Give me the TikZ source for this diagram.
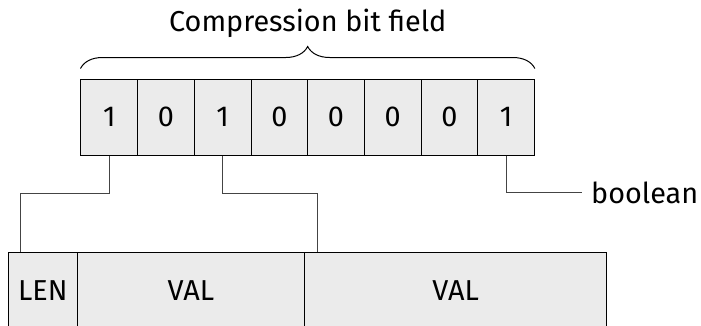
\documentclass[tikz,border=0pt]{standalone}
\usepackage{fontspec}
\setmainfont{Fira Sans}
\usetikzlibrary{calc,decorations.pathreplacing}
\definecolor{cellfill}{HTML}{EBEBEB}
\definecolor{wire}{HTML}{444444}
\tikzset{
  labelfont/.style={font=\fontsize{28.8}{34}\selectfont},
  cell/.style={draw=black, fill=cellfill, line width=1pt, inner sep=0pt,
    minimum height=76pt, labelfont},
  bitcell/.style={cell, minimum width=56.67pt},
  wireline/.style={draw=wire, line width=1pt},
}
\begin{document}
\begin{tikzpicture}[x=1pt, y=-1pt]
\useasboundingbox (0,0) rectangle (701,325);
\begin{scope}
\clip (0,0) rectangle (701,325);
% field boxes below
\node[cell, minimum width=69pt]    (len)  at (42.8,290.5)  {LEN};
\node[cell, minimum width=227.2pt] (val1) at (190.9,290.5) {VAL};
\node[cell, minimum width=302.2pt] (val2) at (455.6,290.5) {VAL};
\end{scope}
% the eight flag bits
\foreach \v [count=\i] in {1,0,1,0,0,0,0,1}
  \node[bitcell] (b\i) at ({109.33+56.67*(\i-1)},117) {\v};
% brace and title
\draw[line width=1pt, decorate, decoration={brace, amplitude=22pt}]
  (b1.north west) ++(0,-10) coordinate (brl) (b8.north east) ++(0,-10) coordinate (brr)
  (brl) -- (brr);
\node[labelfont] (title) at (307.7,23) {Compression bit field};
% connectors
\draw[wireline] (b1.south) -- ++(0,37.7) -| ($(len.north west)+(13,0)$);
\draw[wireline] (b3.south) -- ++(0,37.7) -| ($(val2.north west)+(13,0)$);
\node[anchor=west, inner sep=0pt, labelfont] (bool) at (591,192.7) {boolean};
\draw[wireline] (b8.south) |- ($(bool.west)+(-9.5,0)$);
\end{tikzpicture}
\end{document}
